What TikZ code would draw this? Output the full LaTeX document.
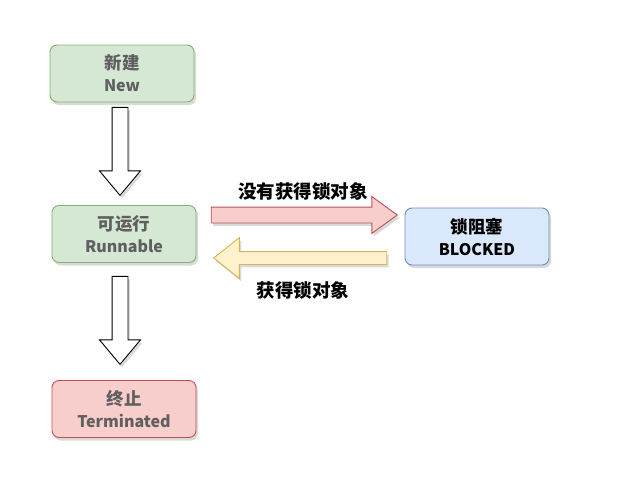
\documentclass[tikz,border=0pt]{standalone}
\usepackage{fontspec}
\setmainfont{Noto Sans CJK SC}
\usetikzlibrary{shapes.arrows,shadows}
\definecolor{gfill}{HTML}{D5E8D4}\definecolor{gline}{HTML}{82B366}
\definecolor{bfill}{HTML}{DAE8FC}\definecolor{bline}{HTML}{6C8EBF}
\definecolor{rfill}{HTML}{F8CECC}\definecolor{rline}{HTML}{B85450}
\definecolor{yfill}{HTML}{FFF2CC}\definecolor{yline}{HTML}{D6B656}
\definecolor{txtgray}{HTML}{5F5F5F}
\newcommand{\zh}[1]{{\fontsize{17.5}{21}\selectfont #1}}
\tikzset{
  shad/.style={drop shadow={shadow xshift=2pt,shadow yshift=-3pt,fill=black,opacity=0.15}},
  state/.style={draw,line width=0.9pt,rounded corners=7pt,minimum width=144pt,minimum height=57pt,
    align=center,inner sep=0pt,font=\fontsize{16}{22}\selectfont\bfseries,text=txtgray,shad},
  blockarrow/.style={single arrow,line width=0.9pt,text width=0pt,text height=0pt,text depth=0pt,anchor=tip,shad},
  down/.style={blockarrow,draw=black,fill=white,minimum height=88pt,inner xsep=7.5pt,inner ysep=0pt,
    single arrow head extend=12.5pt,single arrow tip angle=80,shape border rotate=270},
  lbl/.style={font=\fontsize{18.5}{22}\selectfont\bfseries,text=black,inner sep=0pt}
}
\begin{document}
\begin{tikzpicture}[x=1pt,y=-1pt]
\useasboundingbox (0,0) rectangle (635,479);
\node[state,fill=gfill,draw=gline] (new) at (122,73.5) {\zh{新建}\\New};
\node[state,fill=gfill,draw=gline] (run) at (124,234) {\zh{可运行}\\Runnable};
\node[state,fill=rfill,draw=rline] (term) at (124,409) {\zh{终止}\\Terminated};
\node[state,fill=bfill,draw=bline,text=black] (blk) at (477,236.5) {\zh{锁阻塞}\\BLOCKED};
\node[down] (a1) at (120,196) {};
\node[down] (a2) at (120,365) {};
\node[blockarrow,draw=rline,fill=rfill,minimum height=186pt,inner xsep=0pt,inner ysep=7.5pt,
  single arrow head extend=10.5pt,single arrow tip angle=72] (a3) at (398,215) {};
\node[blockarrow,draw=yline,fill=yfill,minimum height=173pt,inner xsep=0pt,inner ysep=6pt,
  single arrow head extend=14pt,single arrow tip angle=77,shape border rotate=180] (a4) at (213,258) {};
\node[lbl] (l1) at (303,191) {没有获得锁对象};
\node[lbl] (l2) at (303,290) {获得锁对象};
\end{tikzpicture}
\end{document}
